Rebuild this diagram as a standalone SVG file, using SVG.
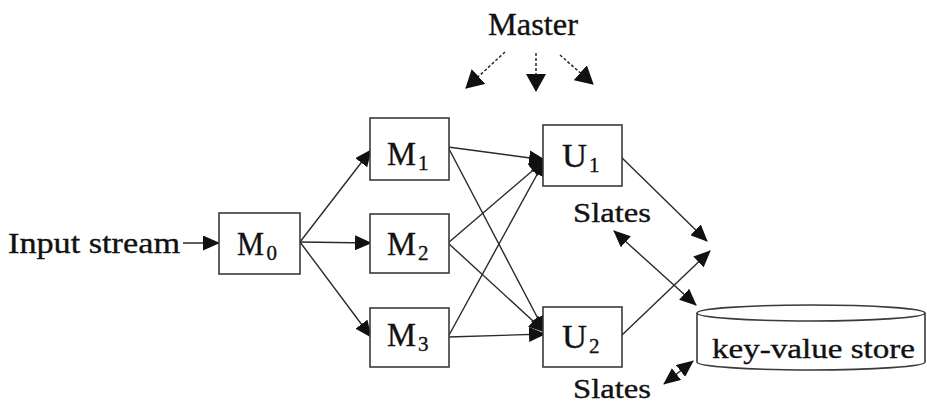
<svg xmlns="http://www.w3.org/2000/svg" width="927" height="403" viewBox="0 0 927 403">
<style>
.box{fill:#fff;stroke:#3a3a3a;stroke-width:1.6}
.ln{stroke:#2a2a2a;stroke-width:1.4;fill:none}
.dash{stroke:#2a2a2a;stroke-width:1.5;fill:none;stroke-dasharray:3 2}
.t{font-family:"Liberation Serif","Times New Roman",serif;fill:#111;stroke:#111;stroke-width:0.35}
.big{font-size:33px}
.sub{font-size:21px}
</style>
<defs>
<marker id="ah" markerUnits="userSpaceOnUse" markerWidth="17" markerHeight="15" refX="16" refY="7.5" orient="auto-start-reverse" viewBox="0 0 17 15">
<path d="M0,0 L17,7.5 L0,15 Z" fill="#111"/>
</marker>
<marker id="ahm" markerUnits="userSpaceOnUse" markerWidth="18" markerHeight="20" refX="17" refY="10" orient="auto" viewBox="0 0 18 20">
<path d="M0,0 L18,10 L0,20 Z" fill="#111"/>
</marker>
</defs>
<rect width="927" height="403" fill="#fff"/>

<g id="connectors">
<line class="ln" x1="183" y1="243" x2="219" y2="243" marker-end="url(#ah)"/>
<line class="ln" x1="300" y1="242" x2="371" y2="150" marker-end="url(#ah)"/>
<line class="ln" x1="300" y1="242" x2="371" y2="243" marker-end="url(#ah)"/>
<line class="ln" x1="300" y1="242" x2="371" y2="337" marker-end="url(#ah)"/>
<line class="ln" x1="448" y1="147" x2="545" y2="160" marker-end="url(#ah)"/>
<line class="ln" x1="448" y1="147" x2="545" y2="332" marker-end="url(#ah)"/>
<line class="ln" x1="448" y1="243" x2="545" y2="160" marker-end="url(#ah)"/>
<line class="ln" x1="448" y1="243" x2="545" y2="332" marker-end="url(#ah)"/>
<line class="ln" x1="448" y1="337" x2="545" y2="160" marker-end="url(#ah)"/>
<line class="ln" x1="448" y1="337" x2="545" y2="334" marker-end="url(#ah)"/>
<line class="ln" x1="617" y1="153" x2="707" y2="241" marker-end="url(#ah)"/>
<line class="ln" x1="622" y1="335" x2="710" y2="251" marker-end="url(#ah)"/>
<line class="ln" x1="614" y1="231" x2="696" y2="305" marker-start="url(#ah)" marker-end="url(#ah)"/>
<line class="ln" x1="664" y1="384" x2="693" y2="361" marker-start="url(#ah)" marker-end="url(#ah)"/>
<line class="dash" x1="505" y1="52" x2="466" y2="88" marker-end="url(#ahm)"/>
<line class="dash" x1="536" y1="53" x2="536" y2="91" marker-end="url(#ahm)"/>
<line class="dash" x1="560" y1="55" x2="593" y2="84" marker-end="url(#ahm)"/>
</g>

<g id="master"><text class="t" x="488" y="35" font-size="32" textLength="90" lengthAdjust="spacingAndGlyphs">Master</text></g>
<g id="input"><text class="t" x="8" y="253" font-size="30" textLength="172" lengthAdjust="spacingAndGlyphs">Input stream</text></g>

<g id="M0"><rect class="box" x="219" y="213" width="81" height="61"/>
<text class="t big" x="237" y="255" textLength="27" lengthAdjust="spacingAndGlyphs">M</text><text class="t sub" x="266.5" y="260">0</text></g>
<g id="M1"><rect class="box" x="370" y="118" width="79" height="62"/>
<text class="t big" x="387" y="165" textLength="29" lengthAdjust="spacingAndGlyphs">M</text><text class="t sub" x="418" y="170">1</text></g>
<g id="M2"><rect class="box" x="370" y="214" width="79" height="59"/>
<text class="t big" x="387" y="255" textLength="29" lengthAdjust="spacingAndGlyphs">M</text><text class="t sub" x="418" y="260">2</text></g>
<g id="M3"><rect class="box" x="370" y="308" width="79" height="59"/>
<text class="t big" x="387" y="346" textLength="29" lengthAdjust="spacingAndGlyphs">M</text><text class="t sub" x="418" y="351">3</text></g>
<g id="U1"><rect class="box" x="543" y="125" width="79" height="61"/>
<text class="t big" x="562" y="167" textLength="25" lengthAdjust="spacingAndGlyphs">U</text><text class="t sub" x="589" y="172">1</text></g>
<g id="U2"><rect class="box" x="543" y="307" width="79" height="60"/>
<text class="t big" x="562" y="348" textLength="25" lengthAdjust="spacingAndGlyphs">U</text><text class="t sub" x="589" y="353">2</text></g>

<g id="slates1"><text class="t" x="573" y="222" font-size="27" textLength="78" lengthAdjust="spacingAndGlyphs">Slates</text></g>
<g id="slates2"><text class="t" x="573" y="398" font-size="27" textLength="78" lengthAdjust="spacingAndGlyphs">Slates</text></g>

<g id="store">
<path class="box" d="M697,313 L697,362 A114,8 0 0 0 925,362 L925,313"/>
<ellipse class="box" cx="811" cy="313" rx="114" ry="8"/>
<text class="t" x="712" y="358" font-size="27" textLength="203" lengthAdjust="spacingAndGlyphs">key-value store</text>
</g>
</svg>
